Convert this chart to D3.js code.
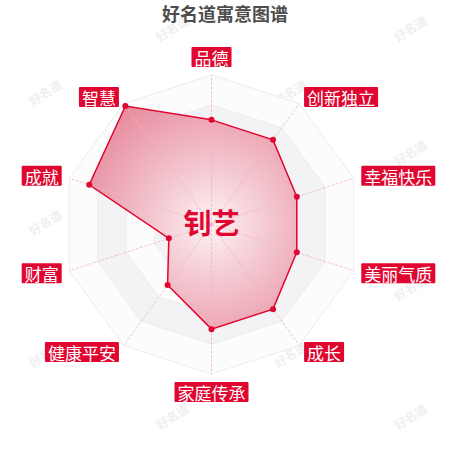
<!DOCTYPE html>
<html>
<head>
<meta charset="utf-8">
<script src="https://cdn.jsdelivr.net/npm/d3@7"></script>
<style>
  body { margin: 0; background: #fff; }
  svg { display: block; }
</style>
</head>
<body>
<svg id="chart"></svg>
<script>
// data
const indicators = ["品德", "创新独立", "幸福快乐", "美丽气质", "成长", "家庭传承", "健康平安", "财富", "成就", "智慧"];
const scores = [70, 70, 60, 60, 70, 70, 50, 30, 86, 98];
const maxScore = 100;
const ringLevels = [20, 40, 60, 80, 100];
const titleText = "好名道寓意图谱";
const nameText = "钊艺";
const watermarkText = "好名道";

const width = 450, height = 450;
const cx = 211.5, cy = 224.5, R = 149.5;
const red = "#e1062f";

const svg = d3.select("#chart")
  .attr("width", width)
  .attr("height", height)
  .style("font-family", "'Noto Sans CJK SC', 'Noto Sans', sans-serif");

// gradient lives in the chart group's coordinates (origin = centre)
const defs = svg.append("defs");
const grad = defs.append("radialGradient")
  .attr("id", "areaGrad")
  .attr("gradientUnits", "userSpaceOnUse")
  .attr("cx", 0).attr("cy", 0).attr("r", R);
grad.append("stop").attr("offset", "0%").attr("stop-color", "#fdf3f5");
grad.append("stop").attr("offset", "28%").attr("stop-color", "#f6d3da");
grad.append("stop").attr("offset", "100%").attr("stop-color", "#e6879a");

// watermarks, staggered
const marks = [];
const rowsY = [28, 92, 152, 222, 287, 354, 416];
rowsY.forEach((y, i) => {
  const xs = i % 2 === 0 ? [172, 410] : [45, 290];
  xs.forEach(x => marks.push([x, y]));
});
svg.append("g").selectAll("text")
  .data(marks)
  .enter().append("text")
  .attr("transform", d => "translate(" + d[0] + "," + d[1] + ") rotate(-32)")
  .attr("text-anchor", "middle")
  .attr("dominant-baseline", "central")
  .style("font-size", "12px")
  .style("font-weight", "bold")
  .style("fill", "#efefef")
  .text(watermarkText);

const r = d3.scaleLinear().domain([0, maxScore]).range([0, R]);
const n = indicators.length;
const angle = i => i * 2 * Math.PI / n;

const g = svg.append("g").attr("transform", "translate(" + cx + "," + cy + ")");

const radial = d3.lineRadial()
  .angle((d, i) => angle(i))
  .radius(d => r(d))
  .curve(d3.curveLinearClosed);

// split areas, from the outside in
const ringColors = ["#fcfcfd", "#f3f3f6"];
ringLevels.slice().reverse().forEach(lv => {
  const idx = ringLevels.indexOf(lv);
  g.append("path")
    .attr("d", radial(indicators.map(() => lv)))
    .attr("fill", ringColors[idx % 2])
    .attr("stroke", "#ededf0")
    .attr("stroke-width", 1);
});

// value area
g.append("path")
  .attr("d", radial(scores))
  .attr("fill", "url(#areaGrad)")
  .attr("stroke", "none");

// axis lines
g.selectAll(".axis")
  .data(indicators)
  .enter().append("line")
  .attr("class", "axis")
  .attr("x1", 0).attr("y1", 0)
  .attr("x2", (d, i) => r(maxScore) * Math.sin(angle(i)))
  .attr("y2", (d, i) => -r(maxScore) * Math.cos(angle(i)))
  .attr("stroke", "#f3b3bf")
  .attr("stroke-width", 0.8)
  .attr("stroke-dasharray", "3,1.5");

g.append("path")
  .attr("d", radial(scores))
  .attr("fill", "none")
  .attr("stroke", red)
  .attr("stroke-width", 1.5);

g.selectAll(".dot")
  .data(scores)
  .enter().append("circle")
  .attr("class", "dot")
  .attr("cx", (d, i) => r(d) * Math.sin(angle(i)))
  .attr("cy", (d, i) => -r(d) * Math.cos(angle(i)))
  .attr("r", 3)
  .attr("fill", red);

// indicator labels
const gap = 8, boxH = 20, padX = 3;
const labels = g.selectAll(".lab")
  .data(indicators)
  .enter().append("g")
  .attr("class", "lab");

labels.each(function(d, i) {
  const lg = d3.select(this);
  const a = angle(i), s = Math.sin(a), c = Math.cos(a);
  const ax = (R + gap) * s, ay = -(R + gap) * c;
  const rect = lg.append("rect").attr("fill", red).attr("rx", 1);
  const t = lg.append("text")
    .attr("text-anchor", "middle")
    .attr("dominant-baseline", "central")
    .style("font-size", "17px")
    .style("fill", "#fff")
    .text(d);
  const w = t.node().getComputedTextLength() + padX * 2;
  let bx, by;
  if (Math.abs(s) < 0.01) {
    bx = ax - w / 2;
    by = c > 0 ? ay - boxH : ay;
  } else {
    bx = s > 0 ? ax : ax - w;
    by = ay - boxH / 2;
  }
  rect.attr("x", bx).attr("y", by).attr("width", w).attr("height", boxH);
  t.attr("x", bx + w / 2).attr("y", by + boxH / 2 + 0.5);
});

// name in the middle
g.append("text")
  .attr("x", 0)
  .attr("y", -3)
  .attr("text-anchor", "middle")
  .attr("dominant-baseline", "central")
  .style("font-size", "28px")
  .style("font-weight", "bold")
  .style("fill", red)
  .text(nameText);

// title
svg.append("text")
  .attr("x", width / 2)
  .attr("y", 21)
  .attr("text-anchor", "middle")
  .style("font-size", "18px")
  .style("font-weight", "bold")
  .style("fill", "#4d4d4d")
  .text(titleText);
</script>
</body>
</html>
